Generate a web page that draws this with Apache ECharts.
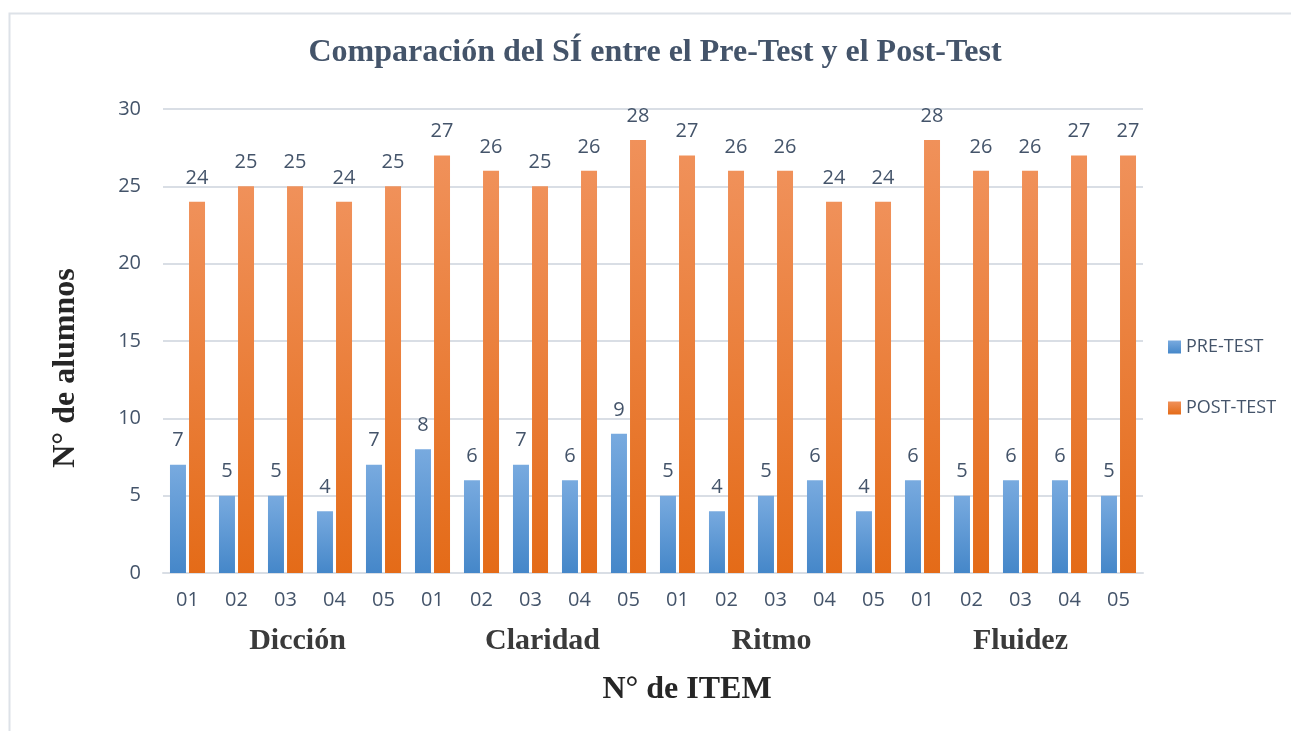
<!DOCTYPE html>
<html>
<head>
<meta charset="utf-8">
<script src="https://cdn.jsdelivr.net/npm/echarts@6/dist/echarts.min.js"></script>
<style>
html,body{margin:0;padding:0;background:#fff;}
#chart{width:1291px;height:731px;}
</style>
</head>
<body>
<div id="chart"></div>
<script>
const titleText = 'Comparación del SÍ entre el Pre-Test y el Post-Test';
const categories = ['01','02','03','04','05','01','02','03','04','05','01','02','03','04','05','01','02','03','04','05'];
const groups = ['Dicción','Claridad','Ritmo','Fluidez'];
const preTest = [7,5,5,4,7,8,6,7,6,9,5,4,5,6,4,6,5,6,6,5];
const postTest = [24,25,25,24,25,27,26,25,26,28,27,26,26,24,24,28,26,26,27,27];
const seriesNames = ['PRE-TEST','POST-TEST'];
const yAxisName = 'N° de alumnos';
const xAxisName = 'N° de ITEM';

const chart = echarts.init(document.getElementById('chart'));
const labelColor = '#44546A';
const sans = '"Open Sans", "Noto Sans", sans-serif';
const serif = '"Liberation Serif", "DejaVu Serif", serif';

function grad(top, bottom){
  return new echarts.graphic.LinearGradient(0,0,0,1,[{offset:0,color:top},{offset:1,color:bottom}]);
}
// small horizontal nudges of the group labels (as placed in the original)
const groupShift = [12, 12, -4, 0];
const groupData = groups.map((g,i)=>({
  value:g,
  textStyle: groupShift[i] >= 0 ? {padding:[0,0,0,groupShift[i]*2]} : {padding:[0,-groupShift[i]*2,0,0]}
}));

chart.setOption({
  animation:false,
  backgroundColor:'#fff',
  title:{
    text:titleText,
    left:650, textAlign:'center', top:32,
    textStyle:{fontFamily:serif,fontWeight:'bold',fontSize:32,color:'#44546A'}
  },
  legend:{
    orient:'vertical', left:1163, top:333, itemGap:43,
    itemWidth:13, itemHeight:13, icon:'rect',
    textStyle:{fontFamily:sans,fontSize:18,color:labelColor},
    data:seriesNames
  },
  grid:{left:163, right:148, top:109, bottom:158, containLabel:false},
  xAxis:[{
    type:'category', data:categories, position:'bottom',
    axisLine:{show:true,lineStyle:{color:'#D9DEE5',width:2}},
    axisTick:{show:false},
    axisLabel:{fontFamily:sans,fontSize:20,color:labelColor,margin:17,interval:0}
  },{
    type:'category', data:groupData, position:'bottom', offset:48,
    axisLine:{show:false}, axisTick:{show:false},
    axisLabel:{fontFamily:serif,fontWeight:'bold',fontSize:30,color:'#3A3A3A',interval:0,margin:5}
  }],
  yAxis:{
    type:'value', min:0, max:30, interval:5,
    axisLine:{show:false}, axisTick:{show:false},
    axisLabel:{fontFamily:sans,fontSize:20,color:labelColor,margin:22},
    splitLine:{lineStyle:{color:'#D9DEE5',width:2}}
  },
  series:[{
    name:seriesNames[0], type:'bar', data:preTest, barWidth:16, barGap:'19%',
    itemStyle:{color:grad('#78AADF','#4587C9')},
    label:{show:true,position:'top',distance:14,fontFamily:sans,fontSize:20,color:labelColor}
  },{
    name:seriesNames[1], type:'bar', data:postTest, barWidth:16, barGap:'19%',
    itemStyle:{color:grad('#F0915A','#E46B18')},
    label:{show:true,position:'top',distance:14,fontFamily:sans,fontSize:20,color:labelColor}
  }],
  graphic:[
    {type:'rect', left:7, top:11, shape:{width:1300,height:740}, style:{fill:'none',stroke:'#DDE2E8',lineWidth:2}, z:-1},
    {type:'text', x:66, y:368, rotation:Math.PI/2, style:{text:yAxisName, fontFamily:serif, fontWeight:'bold', fontSize:32, fill:'#262626', align:'center', verticalAlign:'middle'}},
    {type:'text', x:687, y:690, style:{text:xAxisName, fontFamily:serif, fontWeight:'bold', fontSize:32, fill:'#262626', align:'center', verticalAlign:'middle'}}
  ]
});
</script>
</body>
</html>
